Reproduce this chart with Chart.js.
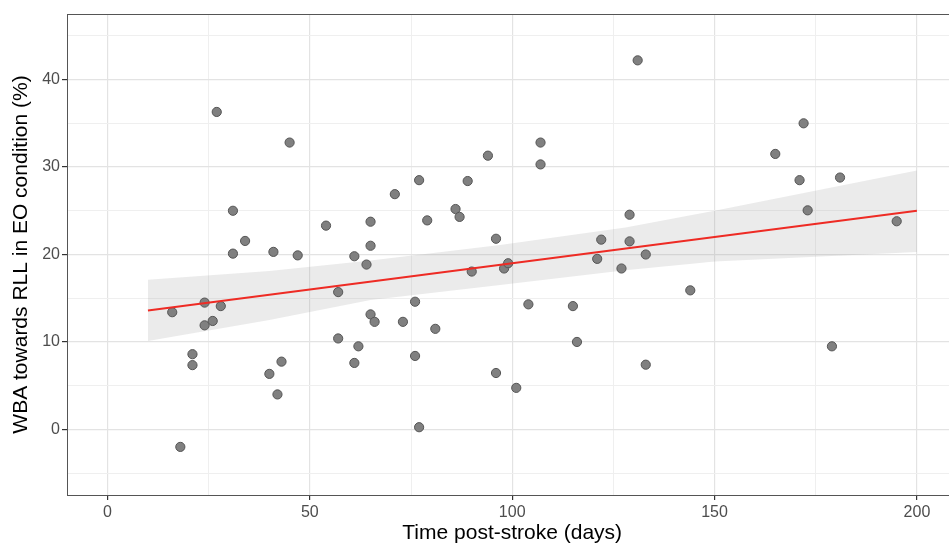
<!DOCTYPE html>
<html>
<head>
<meta charset="utf-8">
<script src="https://cdn.jsdelivr.net/npm/chart.js@4.4.1/dist/chart.umd.min.js"></script>
<style>
  html, body { margin: 0; padding: 0; background: #fff; overflow: hidden; width: 949px; height: 546px; }
  canvas { display: block; }
</style>
</head>
<body>
<canvas id="grafico" width="963" height="546"></canvas>
<script>
// days post-stroke and WBA (%)
const dias = [16, 18, 21, 21, 24, 24, 26, 27, 28, 31, 31, 34, 40, 41, 42, 43, 45, 47,
              54, 57, 57, 61, 61, 62, 64, 65, 65, 65, 66, 71, 73, 76, 76, 77, 77, 79,
              81, 86, 87, 89, 90, 94, 96, 96, 98, 99, 101, 104, 107, 107, 115, 116,
              121, 122, 127, 129, 129, 131, 133, 133, 144, 165, 171, 172, 173, 179, 181, 195];
const wba = [13.4, -2.0, 8.6, 7.35, 14.5, 11.9, 12.4, 36.3, 14.1, 25.0, 20.1, 21.55, 6.35, 20.3, 4.0, 7.75, 32.8, 19.9,
             23.3, 15.7, 10.4, 19.8, 7.6, 9.5, 18.85, 23.75, 21.0, 13.15, 12.3, 26.9, 12.3, 14.6, 8.4, 28.5, 0.25, 23.9,
             11.5, 25.2, 24.3, 28.4, 18.05, 31.3, 21.8, 6.45, 18.4, 19.0, 4.75, 14.3, 32.8, 30.3, 14.1, 10.0,
             19.5, 21.7, 18.4, 24.55, 21.5, 42.2, 20.0, 7.4, 15.9, 31.5, 28.5, 35.0, 25.05, 9.5, 28.8, 23.8];

// fitted line and its confidence band
const ajusteX = [10, 200];
const ajusteY = [13.6, 25.0];
const bandaX = [10, 40, 65, 97, 128, 150, 200];
const bandaSup = [17.1, 18.1, 19.3, 21.1, 23.1, 25.0, 29.6];
const bandaInf = [10.1, 12.5, 14.8, 16.5, 18.2, 19.2, 20.3];

// axis ticks
const ticksX = [0, 25, 50, 75, 100, 125, 150, 175, 200];
const ticksY = [-5, 0, 5, 10, 15, 20, 25, 30, 35, 40, 45];

const puntos = dias.map((d, i) => ({ x: d, y: wba[i] }));
const linea = ajusteX.map((d, i) => ({ x: d, y: ajusteY[i] }));
const sup = bandaX.map((d, i) => ({ x: d, y: bandaSup[i] }));
const inf = bandaX.map((d, i) => ({ x: d, y: bandaInf[i] }));

const esMayorX = v => v % 50 === 0;
const esMayorY = v => v % 10 === 0;

// panel border like theme_bw (no right side, it is cut off)
const borde = {
    id: 'borde',
    afterDatasetsDraw(chart) {
        const a = chart.chartArea;
        const c = chart.ctx;
        c.save();
        c.strokeStyle = '#555';
        c.lineWidth = 1;
        c.strokeRect(Math.round(a.left) + 0.5, Math.round(a.top) + 0.5,
                     Math.round(a.right - a.left), Math.round(a.bottom - a.top));
        c.restore();
    }
};

new Chart(document.getElementById('grafico'), {
    type: 'scatter',
    data: {
        datasets: [
            {
                label: 'inf',
                data: inf,
                showLine: true,
                borderWidth: 0,
                pointRadius: 0,
                fill: false,
                order: 3
            },
            {
                label: 'sup',
                data: sup,
                showLine: true,
                borderWidth: 0,
                pointRadius: 0,
                backgroundColor: 'rgba(153,153,153,0.2)',
                fill: '-1',
                order: 2
            },
            {
                label: 'datos',
                data: puntos,
                pointRadius: 4.6,
                pointBackgroundColor: '#808080',
                pointBorderColor: '#555',
                pointBorderWidth: 1,
                order: 1
            },
            {
                label: 'ajuste',
                data: linea,
                showLine: true,
                borderColor: '#ee2b24',
                borderWidth: 2,
                pointRadius: 0,
                fill: false,
                order: 0
            }
        ]
    },
    options: {
        responsive: false,
        animation: false,
        layout: { padding: { top: 14, right: 1, left: 0, bottom: 0 } },
        plugins: {
            legend: { display: false },
            tooltip: { enabled: false }
        },
        scales: {
            x: {
                type: 'linear',
                min: -10,
                max: 210,
                afterBuildTicks: s => { s.ticks = ticksX.map(v => ({ value: v })); },
                afterFit: s => { s.height = 51; },
                border: { display: false },
                grid: {
                    color: c => esMayorX(c.tick.value) ? '#e3e3e3' : '#efefef',
                    lineWidth: c => esMayorX(c.tick.value) ? 1.2 : 1,
                    tickColor: c => esMayorX(c.tick.value) ? '#333' : 'rgba(0,0,0,0)',
                    tickLength: 5,
                    tickWidth: 1.2
                },
                ticks: {
                    autoSkip: false,
                    maxRotation: 0,
                    padding: 3,
                    color: '#4d4d4d',
                    font: { family: 'Liberation Sans, Arial, sans-serif', size: 16 },
                    callback: v => esMayorX(v) ? String(v) : ''
                },
                title: {
                    display: true,
                    text: 'Time post-stroke (days)',
                    color: '#000',
                    font: { family: 'Liberation Sans, Arial, sans-serif', size: 21 },
                    padding: { top: 0, bottom: 0 }
                }
            },
            y: {
                type: 'linear',
                min: -7.5,
                max: 47.5,
                afterBuildTicks: s => { s.ticks = ticksY.map(v => ({ value: v })); },
                afterFit: s => { s.width = 67; },
                border: { display: false },
                grid: {
                    color: c => esMayorY(c.tick.value) ? '#e3e3e3' : '#efefef',
                    lineWidth: c => esMayorY(c.tick.value) ? 1.2 : 1,
                    tickColor: c => esMayorY(c.tick.value) ? '#333' : 'rgba(0,0,0,0)',
                    tickLength: 5,
                    tickWidth: 1.2
                },
                ticks: {
                    autoSkip: false,
                    padding: 2,
                    color: '#4d4d4d',
                    font: { family: 'Liberation Sans, Arial, sans-serif', size: 16 },
                    callback: v => esMayorY(v) ? String(v) : ''
                },
                title: {
                    display: true,
                    text: 'WBA towards RLL in EO condition (%)',
                    color: '#000',
                    font: { family: 'Liberation Sans, Arial, sans-serif', size: 21 },
                    padding: { top: 9, bottom: 0 }
                }
            }
        }
    },
    plugins: [borde]
});
</script>
</body>
</html>
